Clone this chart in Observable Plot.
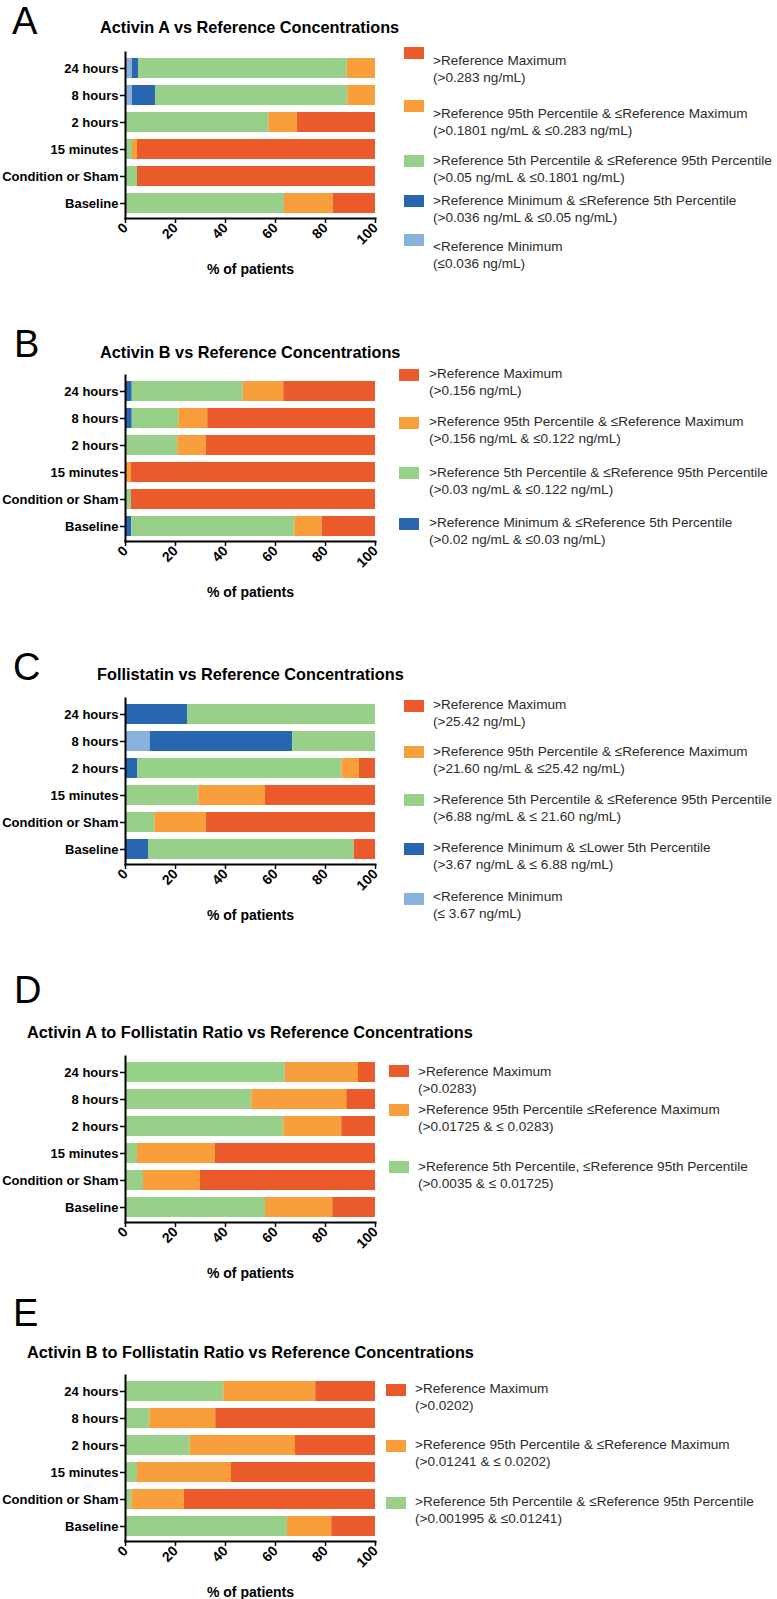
<!DOCTYPE html>
<html>
<head>
<meta charset="utf-8">
<script src="https://cdn.jsdelivr.net/npm/d3@7"></script>
<script src="https://cdn.jsdelivr.net/npm/@observablehq/plot@0.6"></script>
<style>
  html, body { margin: 0; padding: 0; background: #fff; }
  #root { position: relative; width: 777px; height: 1599px; overflow: hidden; font-family: "Liberation Sans", Arial, Helvetica, sans-serif; }
  .t { position: absolute; white-space: nowrap; }
  .sw { position: absolute; }
  .plot { position: absolute; left: 0; }
</style>
</head>
<body>
<div id="root"></div>
<script>
// ---------- data ----------
const periods = ["24 hours", "8 hours", "2 hours", "15 minutes", "Condition or Sham", "Baseline"];
const xTicks = [0, 20, 40, 60, 80, 100];
const xLabel = "% of patients";

// Band names (stack order, left to right)
const bandNames = ["<Reference Minimum", ">Reference Minimum & ≤Reference 5th Percentile", ">Reference 5th & ≤95th Percentile", ">Reference 95th Percentile & ≤Maximum", ">Reference Maximum"];
const bandColors = ["#8ab1dd", "#2966b0", "#98cf89", "#f89e3a", "#eb5a2b"];

// Panel A: Activin A (% of patients per band)
const A_belowMin = [2.8, 2.8, 0, 0, 0, 0];
const A_minTo5 = [2.4, 9.2, 0, 0, 0, 0];
const A_5to95 = [83.5, 76.9, 57.3, 2.8, 4.8, 63.6];
const A_95toMax = [11.3, 11.1, 11.4, 2.0, 0, 19.5];
const A_aboveMax = [0, 0, 31.3, 95.2, 95.2, 16.9];

// Panel B: Activin B
const B_minTo5 = [2.7, 2.7, 0, 0, 0, 2.5];
const B_5to95 = [44.4, 18.6, 20.9, 0, 2.4, 65.2];
const B_95toMax = [16.2, 11.6, 11.4, 2.4, 0, 11.0];
const B_aboveMax = [36.7, 67.1, 67.7, 97.6, 97.6, 21.3];

// Panel C: Follistatin
const C_belowMin = [0, 9.9, 0, 0, 0, 0];
const C_minTo5 = [24.8, 57.0, 4.9, 0, 0, 9.2];
const C_5to95 = [75.2, 33.1, 81.6, 29.3, 11.7, 82.3];
const C_95toMax = [0, 0, 7.0, 26.7, 20.6, 0];
const C_aboveMax = [0, 0, 6.5, 44.0, 67.7, 8.5];

// Panel D: Activin A to Follistatin ratio
const D_5to95 = [63.9, 50.5, 63.3, 4.8, 7.2, 56.0];
const D_95toMax = [29.3, 38.0, 23.2, 31.2, 22.8, 26.9];
const D_aboveMax = [6.8, 11.5, 13.5, 64.0, 70.0, 17.1];

// Panel E: Activin B to Follistatin ratio
const E_5to95 = [39.3, 9.7, 25.9, 4.8, 2.5, 64.8];
const E_95toMax = [36.8, 26.4, 42.1, 37.6, 21.0, 17.7];
const E_aboveMax = [23.9, 63.9, 32.0, 57.6, 76.5, 17.5];

const panelLetters = ["A", "B", "C", "D", "E"];
const panelTitles = [
  "Activin A vs Reference Concentrations",
  "Activin B vs Reference Concentrations",
  "Follistatin vs Reference Concentrations",
  "Activin A to Follistatin Ratio vs Reference Concentrations",
  "Activin B to Follistatin Ratio vs Reference Concentrations"
];

// Legend texts (each entry: band index, line1, line2)
const legendA = [
  [4, ">Reference Maximum", "(>0.283 ng/mL)"],
  [3, ">Reference 95th Percentile & ≤Reference Maximum", "(>0.1801 ng/mL & ≤0.283 ng/mL)"],
  [2, ">Reference 5th Percentile & ≤Reference 95th Percentile", "(>0.05 ng/mL & ≤0.1801 ng/mL)"],
  [1, ">Reference Minimum & ≤Reference 5th  Percentile", "(>0.036 ng/mL & ≤0.05 ng/mL)"],
  [0, "<Reference Minimum", "(≤0.036 ng/mL)"]
];
const legendB = [
  [4, ">Reference Maximum", "(>0.156 ng/mL)"],
  [3, ">Reference 95th Percentile & ≤Reference Maximum", "(>0.156 ng/mL & ≤0.122 ng/mL)"],
  [2, ">Reference 5th Percentile & ≤Reference 95th Percentile", "(>0.03 ng/mL & ≤0.122 ng/mL)"],
  [1, ">Reference Minimum & ≤Reference 5th Percentile", "(>0.02 ng/mL & ≤0.03 ng/mL)"]
];
const legendC = [
  [4, ">Reference Maximum", "(>25.42 ng/mL)"],
  [3, ">Reference 95th Percentile & ≤Reference Maximum", "(>21.60 ng/mL & ≤25.42 ng/mL)"],
  [2, ">Reference 5th Percentile & ≤Reference 95th Percentile", "(>6.88 ng/mL & ≤ 21.60 ng/mL)"],
  [1, ">Reference Minimum & ≤Lower 5th Percentile", "(>3.67 ng/mL & ≤ 6.88 ng/mL)"],
  [0, "<Reference Minimum", "(≤ 3.67 ng/mL)"]
];
const legendD = [
  [4, ">Reference Maximum", "(>0.0283)"],
  [3, ">Reference 95th Percentile ≤Reference Maximum", "(>0.01725 & ≤ 0.0283)"],
  [2, ">Reference 5th Percentile, ≤Reference 95th Percentile", "(>0.0035 & ≤ 0.01725)"]
];
const legendE = [
  [4, ">Reference Maximum", "(>0.0202)"],
  [3, ">Reference 95th Percentile & ≤Reference Maximum", "(>0.01241 & ≤ 0.0202)"],
  [2, ">Reference 5th Percentile & ≤Reference 95th Percentile", "(>0.001995 & ≤0.01241)"]
];

// ---------- layout ----------
const FONT = '"Liberation Sans", Arial, Helvetica, sans-serif';
const root = document.getElementById("root");

// place a text so that its baseline lands at `baseline` (Liberation Sans metrics)
function text(x, baseline, str, size, weight, color) {
  const d = document.createElement("div");
  d.className = "t";
  d.textContent = str;
  d.style.left = x + "px";
  d.style.top = (baseline - 0.8465 * size) + "px";
  d.style.fontSize = size + "px";
  d.style.lineHeight = size + "px";
  d.style.fontWeight = weight;
  d.style.color = color || "#000";
  root.appendChild(d);
}
function swatch(x, y, color) {
  const d = document.createElement("div");
  d.className = "sw";
  d.style.left = x + "px"; d.style.top = y + "px";
  d.style.width = "20px"; d.style.height = "12px";
  d.style.background = color;
  root.appendChild(d);
}

function makePlot(seriesList, axisTop) {
  const rows = [];
  seriesList.forEach(([bi, vals]) => vals.forEach((v, i) => rows.push({period: periods[i], band: bandNames[bi], value: v})));
  const plot = Plot.plot({
    width: 390, height: 236,
    marginLeft: 125, marginRight: 15, marginTop: 10, marginBottom: 60,
    style: {fontFamily: FONT, fontSize: "13px", fontWeight: "bold", color: "#000", background: "transparent", overflow: "visible"},
    x: {domain: [0, 100]},
    y: {domain: periods, paddingInner: 0.26, paddingOuter: 0.13},
    color: {domain: bandNames, range: bandColors},
    marks: [
      Plot.barX(rows, Plot.stackX({x: "value", y: "period", fill: "band", order: bandNames})),
      Plot.axisY({tickSize: 5, tickPadding: 2, label: null, strokeWidth: 1.5}),
      Plot.axisX({ticks: xTicks, tickSize: 5, tickPadding: 2, tickRotate: -45, strokeWidth: 1.5, fontSize: 14,
        label: xLabel, labelAnchor: "center", labelOffset: 55, labelArrow: "none"}),
      Plot.frame({anchor: "left", strokeWidth: 2}),
      Plot.frame({anchor: "bottom", strokeWidth: 2})
    ]
  });
  plot.classList.add("plot");
  plot.style.position = "absolute";
  plot.style.left = "0px";
  plot.style.top = (axisTop - 10) + "px";
  root.appendChild(plot);
}

const LEG = 13.6;
function legend(entries, swX, swTops, txtX, centers) {
  entries.forEach(([bi, l1, l2], k) => {
    swatch(swX, swTops[k], bandColors[bi]);
    text(txtX, centers[k] + 0.358 * LEG, l1, LEG, "normal", "#2b2b2b");
    text(txtX, centers[k] + 17 + 0.358 * LEG, l2, LEG, "normal", "#2b2b2b");
  });
}

const panels = [
  {axisTop: 52, letter: [12, 34], title: [100, 32.7],
   series: [[0, A_belowMin], [1, A_minTo5], [2, A_5to95], [3, A_95toMax], [4, A_aboveMax]],
   legend: legendA, swX: 404, swTops: [47, 100, 155, 195, 234], txtX: 433, centers: [61, 114, 161, 201, 247]},
  {axisTop: 375.4, letter: [14, 357.5], title: [100, 357.7],
   series: [[1, B_minTo5], [2, B_5to95], [3, B_95toMax], [4, B_aboveMax]],
   legend: legendB, swX: 399, swTops: [369, 417, 467, 518], txtX: 429, centers: [374, 422, 473, 523]},
  {axisTop: 698.4, letter: [13, 680.5], title: [97, 679.7],
   series: [[0, C_belowMin], [1, C_minTo5], [2, C_5to95], [3, C_95toMax], [4, C_aboveMax]],
   legend: legendC, swX: 404, swTops: [700, 746, 794, 843, 893], txtX: 433, centers: [705, 752, 800, 848, 897]},
  {axisTop: 1056.4, letter: [14, 1003.5], title: [27, 1037.7],
   series: [[2, D_5to95], [3, D_95toMax], [4, D_aboveMax]],
   legend: legendD, swX: 389, swTops: [1065, 1104, 1161], txtX: 418, centers: [1072, 1110, 1167]},
  {axisTop: 1375.4, letter: [13, 1326.5], title: [27, 1357.7],
   series: [[2, E_5to95], [3, E_95toMax], [4, E_aboveMax]],
   legend: legendE, swX: 386, swTops: [1384, 1440, 1497], txtX: 415, centers: [1389, 1445, 1502]}
];

panels.forEach((p, i) => {
  text(p.letter[0], p.letter[1], panelLetters[i], 38, "normal", "#000");
  text(p.title[0], p.title[1], panelTitles[i], 16.3, "bold", "#000");
  makePlot(p.series, p.axisTop);
  legend(p.legend, p.swX, p.swTops, p.txtX, p.centers);
});
</script>
</body>
</html>
